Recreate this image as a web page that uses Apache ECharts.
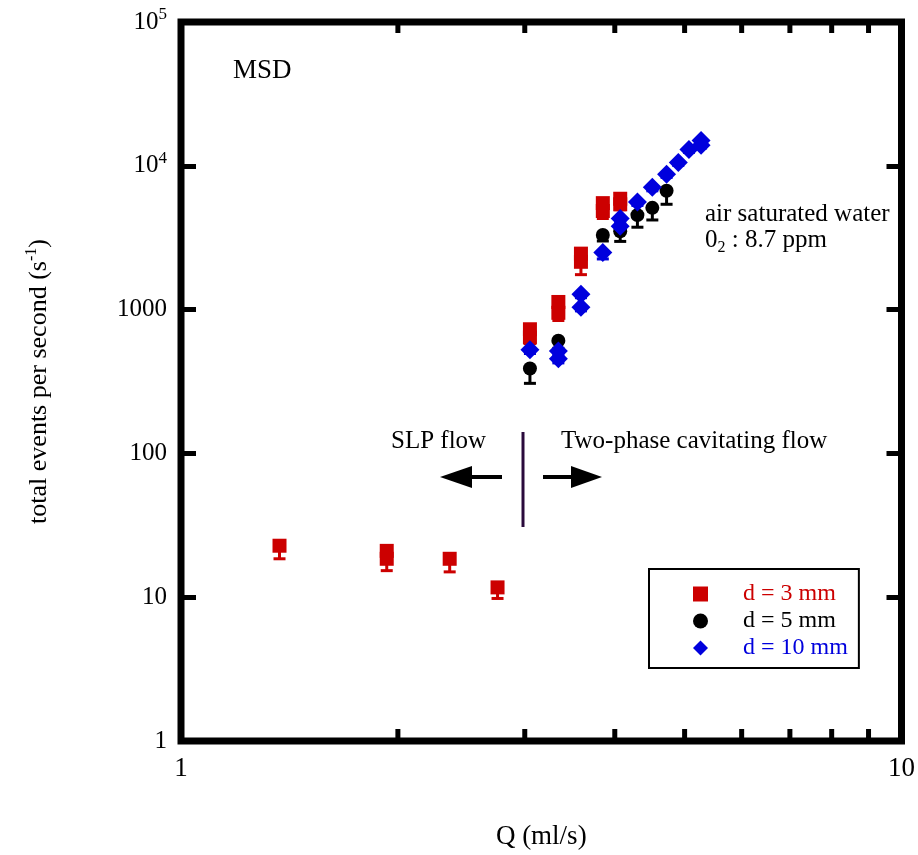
<!DOCTYPE html>
<html>
<head>
<meta charset="utf-8">
<script src="https://cdn.jsdelivr.net/npm/echarts@6/dist/echarts.min.js"></script>
<style>
  html, body { margin: 0; padding: 0; background: #ffffff; }
  #chart { width: 918px; height: 855px; }
</style>
</head>
<body>
<div id="chart"></div>
<script>
const FONT = '"Liberation Serif", "DejaVu Serif", "Times New Roman", serif';

// d = 3 mm nozzle: flow rate (ml/s), event rate (1/s), lower error
const flow3 = [1.37, 1.93, 1.93, 2.36, 2.75, 3.05, 3.05, 3.34, 3.34, 3.59, 3.59, 3.85, 3.85, 4.07, 4.07];
const rate3 = [22.8, 21, 18.5, 18.5, 11.7, 730, 640, 1130, 950, 2450, 2150, 5500, 4850, 5900, 5400];
const err3  = [4.3, 3, 3.2, 3.5, 1.9, 60, 60, 100, 110, 300, 400, 500, 550, 450, 450];

// d = 5 mm nozzle
const flow5 = [3.05, 3.34, 3.85, 4.07, 4.30, 4.51, 4.72];
const rate5 = [389, 608, 3300, 3500, 4540, 5100, 6700];
const err5  = [82, 70, 300, 520, 800, 900, 1300];

// d = 10 mm nozzle
const flow10 = [3.05, 3.34, 3.34, 3.59, 3.59, 3.85, 4.07, 4.07, 4.30, 4.51, 4.72, 4.90, 5.07, 5.27, 5.27];
const rate10 = [525, 515, 456, 1280, 1040, 2500, 4300, 3800, 5600, 7100, 8750, 10560, 13000, 15000, 13900];
const err10  = [30, 30, 30, 70, 60, 250, 200, 200, 300, 400, 450, 500, 600, 700, 600];

const xMinorTicks = [2, 3, 4, 5, 6, 7, 8, 9];

const RED = '#cc0000';
const BLACK = '#000000';
const BLUE = '#0000dd';

function points(q, v) { return q.map((x, i) => [x, v[i]]); }
function lowBars(q, v, e) { return q.map((x, i) => [x, v[i], v[i] - e[i]]); }

function errorRenderer(color) {
  return function (params, api) {
    const top = api.coord([api.value(0), api.value(1)]);
    const bot = api.coord([api.value(0), api.value(2)]);
    return {
      type: 'group',
      children: [
        { type: 'line', shape: { x1: top[0], y1: top[1], x2: bot[0], y2: bot[1] },
          style: { stroke: color, lineWidth: 3 } },
        { type: 'line', shape: { x1: bot[0] - 6, y1: bot[1], x2: bot[0] + 6, y2: bot[1] },
          style: { stroke: color, lineWidth: 3 } }
      ]
    };
  };
}

function errorSeries(name, q, v, e, color) {
  return {
    name: name,
    type: 'custom',
    data: lowBars(q, v, e),
    encode: { x: 0, y: 1 },
    renderItem: errorRenderer(color),
    z: 2,
    silent: true
  };
}

function markerSeries(name, q, v, symbol, size, color) {
  return {
    name: name,
    type: 'scatter',
    data: points(q, v),
    symbol: symbol,
    symbolSize: size,
    itemStyle: { color: color, opacity: 1 },
    z: 3
  };
}

const chart = echarts.init(document.getElementById('chart'), null, { renderer: 'canvas' });

const option = {
  backgroundColor: '#ffffff',
  animation: false,
  textStyle: { fontFamily: FONT },
  grid: {
    left: 181, right: 13, top: 22, bottom: 111,
    show: true, borderColor: '#000000', borderWidth: 7, backgroundColor: 'transparent'
  },
  xAxis: {
    type: 'log', logBase: 10, min: 1, max: 10,
    name: 'Q (ml/s)', nameLocation: 'middle', nameGap: 82,
    nameTextStyle: { fontFamily: FONT, fontSize: 27, color: '#000' },
    axisLine: { show: false },
    axisTick: { show: false },
    splitLine: { show: false },
    axisLabel: { fontFamily: FONT, fontSize: 27, color: '#000', margin: 14 }
  },
  yAxis: [
    {
      type: 'log', logBase: 10, min: 1, max: 100000,
      name: 'total events per second (s{sup|-1})',
      nameLocation: 'middle', nameGap: 127, nameRotate: 90,
      nameTextStyle: {
        fontFamily: FONT, fontSize: 26, color: '#000',
        rich: { sup: { fontFamily: FONT, fontSize: 16, color: '#000', padding: [0, 0, 14, 0] } }
      },
      axisLine: { show: false },
      axisTick: { show: true, inside: true, length: 15, lineStyle: { color: '#000', width: 5 } },
      splitLine: { show: false },
      axisLabel: {
        fontFamily: FONT, fontSize: 25, color: '#000', margin: 14,
        formatter: function (v) {
          const e = Math.round(Math.log10(v));
          if (e >= 4) return '10{sup|' + e + '}';
          return String(Math.round(v));
        },
        rich: { sup: { fontFamily: FONT, fontSize: 17, color: '#000', padding: [0, 0, 14, 0] } }
      }
    },
    {
      type: 'log', logBase: 10, min: 1, max: 100000, position: 'right',
      axisLine: { show: false },
      axisTick: { show: true, inside: true, length: 15, lineStyle: { color: '#000', width: 5 } },
      splitLine: { show: false },
      axisLabel: { show: false }
    }
  ],
  legend: {
    orient: 'vertical',
    left: 649, top: 569,
    padding: [13, 11, 8, 44],
    itemGap: 3,
    itemWidth: 15, itemHeight: 15,
    borderColor: '#000', borderWidth: 2,
    backgroundColor: '#ffffff',
    selectedMode: false,
    textStyle: { fontFamily: FONT, fontSize: 24, padding: [0, 0, 0, 30], lineHeight: 23 },
    data: [
      { name: 'd = 3 mm', icon: 'rect', itemStyle: { color: RED }, textStyle: { color: RED } },
      { name: 'd = 5 mm', icon: 'circle', itemStyle: { color: BLACK }, textStyle: { color: BLACK } },
      { name: 'd = 10 mm', icon: 'diamond', itemStyle: { color: BLUE }, textStyle: { color: BLUE } }
    ]
  },
  series: [
    // minor ticks along the top and bottom frame
    {
      type: 'custom',
      silent: true,
      data: xMinorTicks.map(v => [v, 1]),
      encode: { x: 0, y: 1 },
      renderItem: function (params, api) {
        const b = api.coord([api.value(0), 1]);
        const t = api.coord([api.value(0), 100000]);
        return {
          type: 'group',
          children: [
            { type: 'rect', shape: { x: b[0] - 2.5, y: b[1] - 12, width: 5, height: 12 }, style: { fill: '#000' } },
            { type: 'rect', shape: { x: t[0] - 2.5, y: t[1], width: 5, height: 11 }, style: { fill: '#000' } }
          ]
        };
      },
      z: 1
    },
    errorSeries('d = 3 mm', flow3, rate3, err3, RED),
    errorSeries('d = 5 mm', flow5, rate5, err5, BLACK),
    errorSeries('d = 10 mm', flow10, rate10, err10, BLUE),
    markerSeries('d = 3 mm', flow3, rate3, 'rect', 14, RED),
    markerSeries('d = 5 mm', flow5, rate5, 'circle', 14, BLACK),
    markerSeries('d = 10 mm', flow10, rate10, 'diamond', 19, BLUE)
  ],
  graphic: [
    { type: 'text', left: 233, top: 57, style: { text: 'MSD', font: '27px ' + FONT, fill: '#000' } },
    {
      type: 'text', left: 705, top: 201,
      style: {
        text: 'air saturated water\n0{sub|2} : 8.7 ppm',
        font: '25px ' + FONT, fill: '#000', lineHeight: 26,
        rich: { sub: { font: '16px ' + FONT, fill: '#000', padding: [15, 0, 0, 0] } }
      }
    },
    { type: 'text', left: 391, top: 429, style: { text: 'SLP flow', font: '25px ' + FONT, fill: '#000' } },
    { type: 'text', left: 561, top: 429, style: { text: 'Two-phase cavitating flow', font: '25px ' + FONT, fill: '#000' } },
    // regime divider
    { type: 'line', shape: { x1: 523, y1: 432, x2: 523, y2: 527 }, style: { stroke: '#2a0a3c', lineWidth: 3 } },
    // left arrow
    { type: 'rect', shape: { x: 470, y: 475, width: 32, height: 4 }, style: { fill: '#000' } },
    { type: 'polygon', shape: { points: [[440, 477], [472, 466], [472, 488]] }, style: { fill: '#000' } },
    // right arrow
    { type: 'rect', shape: { x: 543, y: 475, width: 30, height: 4 }, style: { fill: '#000' } },
    { type: 'polygon', shape: { points: [[602, 477], [571, 466], [571, 488]] }, style: { fill: '#000' } }
  ]
};

chart.setOption(option);
</script>
</body>
</html>
